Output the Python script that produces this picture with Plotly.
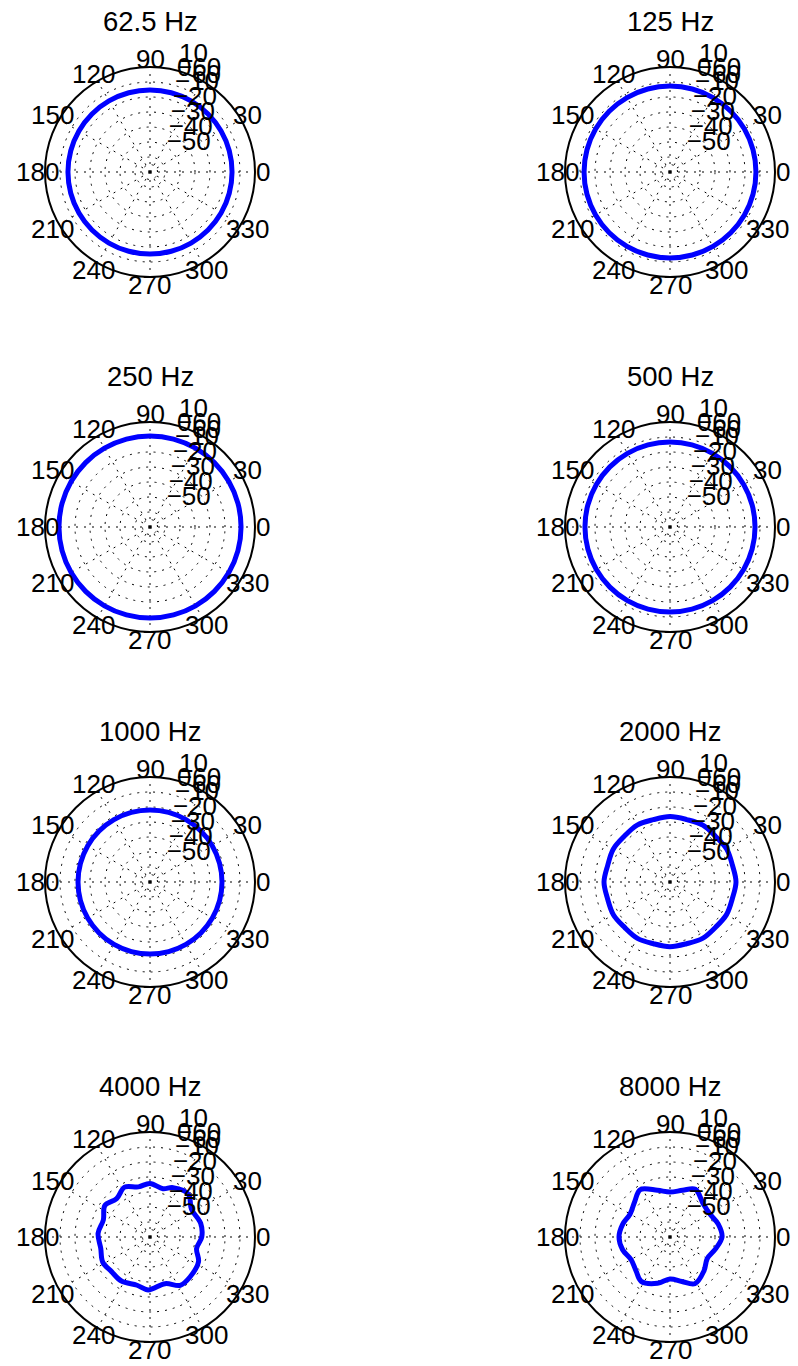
import math
import plotly.graph_objects as go

W, H = 798, 1366
FONT = "Liberation Sans, Arial, Helvetica, sans-serif"

# ---------------- data ----------------
TITLES = ["62.5 Hz", "125 Hz", "250 Hz", "500 Hz",
          "1000 Hz", "2000 Hz", "4000 Hz", "8000 Hz"]

R_RANGE = [-60, 10]                      # dB at centre / outer circle
RING_LEVELS = [-55, -50, -40, -30, -20, -10, 0]
RING_LABEL_POS = [10, 0, 0, -10, -20, -30, -40, -50]
RING_LABEL_TXT = ["10", "0", "−60", "−10", "−20", "−30", "−40", "−50"]
RING_LABEL_ANGLE = 82
ANGLE_TICKS = [0, 30, 60, 90, 120, 150, 180, 210, 240, 270, 300, 330]
ANGLE_LABELS = ["0", "30", "60", "90", "120", "150", "180",
                "210", "240", "270", "300", "330"]

# near-circular responses (dB, read as constant level)
CIRCLE_THETA = [0, 15, 30, 45, 60, 75, 90, 105, 120, 135, 150, 165, 180,
                195, 210, 225, 240, 255, 270, 285, 300, 315, 330, 345, 360]
LEVEL_62_5 = -5.3
LEVEL_125 = -2.7
LEVEL_250 = 0.7
LEVEL_500 = -3.3
LEVEL_1000 = -12.0

THETA_2000 = [0, 15, 30, 45, 60, 75, 90, 105, 120, 135, 150, 165, 180,
              195, 210, 225, 240, 255, 270, 285, 300, 315, 330, 345, 360]
R_2000 = [-16.0, -16.9, -16.3, -17.0, -16.2, -16.9, -16.4, -17.0, -16.2, -16.9,
          -16.3, -17.0, -16.0, -16.9, -16.4, -17.2, -16.6, -17.4, -16.9, -17.4,
          -16.6, -17.2, -16.5, -17.0, -16.0]

THETA_4000 = [0, 15, 34, 48, 65, 75, 90, 103, 117, 131, 145, 160, 176,
              193, 208, 222, 237, 255, 268, 288, 302, 315, 333, 346, 360]
R_4000 = [-25.5, -25.0, -26.7, -21.7, -23.7, -26.7, -24.3, -25.7, -22.7, -26.1,
          -23.3, -26.9, -25.3, -26.3, -24.3, -25.5, -25.0, -26.7, -24.7, -27.3,
          -22.0, -22.3, -23.7, -28.0, -25.5]

THETA_8000 = [0, 15, 30, 45, 62, 75, 90, 105, 122, 135, 150, 165, 180,
              195, 210, 225, 237, 255, 270, 285, 298, 315, 330, 345, 360]
R_8000 = [-25.3, -26.7, -29.3, -28.7, -24.0, -27.8, -30.0, -27.8, -22.7, -26.7,
          -29.3, -27.3, -26.0, -27.3, -30.0, -28.0, -24.7, -28.0, -32.0, -29.3,
          -24.7, -28.0, -31.3, -28.7, -25.3]

SERIES = [
    (CIRCLE_THETA, [LEVEL_62_5] * len(CIRCLE_THETA)),
    (CIRCLE_THETA, [LEVEL_125] * len(CIRCLE_THETA)),
    (CIRCLE_THETA, [LEVEL_250] * len(CIRCLE_THETA)),
    (CIRCLE_THETA, [LEVEL_500] * len(CIRCLE_THETA)),
    (CIRCLE_THETA, [LEVEL_1000] * len(CIRCLE_THETA)),
    (THETA_2000, R_2000),
    (THETA_4000, R_4000),
    (THETA_8000, R_8000),
]

# ---------------- layout geometry ----------------
COL_CX = [150, 670]
ROW_CY0, ROW_STEP = 172, 355
RADIUS = 105
ANGLE_LABEL_RPX = 113
TITLE_OFFSET = 151
GRID_DASH = "2px,6px"
TICK_SIZE = 26
TITLE_SIZE = 27.5

fig = go.Figure()
annotations = []
layout_polars = {}

for k, (theta, r) in enumerate(SERIES):
    row, col = divmod(k, 2)
    cx = COL_CX[col]
    cy = ROW_CY0 + ROW_STEP * row
    key = "polar" if k == 0 else f"polar{k + 1}"

    layout_polars[key] = dict(
        domain=dict(x=[(cx - RADIUS) / W, (cx + RADIUS) / W],
                    y=[1 - (cy + RADIUS) / H, 1 - (cy - RADIUS) / H]),
        bgcolor="white",
        radialaxis=dict(range=R_RANGE, tickmode="array", tickvals=RING_LEVELS,
                        showticklabels=False, ticks="", showline=False,
                        gridcolor="black", gridwidth=1, griddash=GRID_DASH),
        angularaxis=dict(tickmode="array", tickvals=ANGLE_TICKS,
                         showticklabels=False, ticks="", showline=True,
                         linecolor="black", linewidth=2,
                         gridcolor="black", gridwidth=1, griddash=GRID_DASH,
                         direction="counterclockwise", rotation=0),
    )

    fig.add_trace(go.Scatterpolar(
        r=r, theta=theta, mode="lines",
        line=dict(color="#0000ff", width=5, shape="spline"),
        subplot=key, hoverinfo="skip", cliponaxis=False))

    fig.add_trace(go.Scatterpolar(
        r=[min(p + 0.5, R_RANGE[1]) for p in RING_LABEL_POS],
        theta=[RING_LABEL_ANGLE] * len(RING_LABEL_POS),
        text=["\u00a0\u00a0" + t for t in RING_LABEL_TXT],
        mode="text", textposition="top right",
        textfont=dict(family=FONT, size=TICK_SIZE, color="black"),
        subplot=key, hoverinfo="skip", cliponaxis=False))

    for ang, lab in zip(ANGLE_TICKS, ANGLE_LABELS):
        a = math.radians(ang)
        annotations.append(dict(
            text=lab,
            x=(cx + ANGLE_LABEL_RPX * math.cos(a)) / W,
            y=1 - (cy - ANGLE_LABEL_RPX * math.sin(a)) / H,
            xref="paper", yref="paper", xanchor="center", yanchor="middle",
            showarrow=False,
            font=dict(family=FONT, size=TICK_SIZE, color="black")))

    annotations.append(dict(
        text=TITLES[k], x=cx / W, y=1 - (cy - TITLE_OFFSET) / H,
        xref="paper", yref="paper", xanchor="center", yanchor="middle",
        showarrow=False,
        font=dict(family=FONT, size=TITLE_SIZE, color="black")))

fig.update_layout(
    width=W, height=H, margin=dict(l=0, r=0, t=0, b=0),
    paper_bgcolor="white", plot_bgcolor="white", showlegend=False,
    annotations=annotations, **layout_polars)

fig.write_html("out.html",
               config={"displayModeBar": False},
               post_script="document.body.style.margin='0px';")
